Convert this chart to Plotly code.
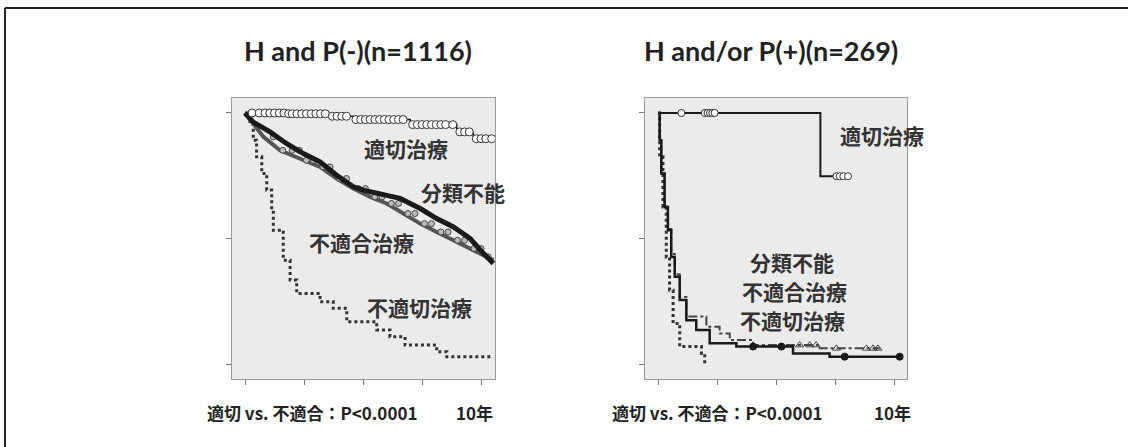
import numpy as np
import plotly.graph_objects as go

W, H = 1128, 447

# ---------------- data ----------------
# Left panel: H and P(-) (n=1116)
L_tekisetsu_t = [0, 1.77, 3.6, 4.6, 7.0, 8.97, 9.67, 10.52]
L_tekisetsu_s = [1.0, 0.997, 0.987, 0.974, 0.954, 0.925, 0.898, 0.898]
L_tekisetsu_cens = [0.3, 0.6, 0.85, 1.05, 1.25, 1.45, 1.65, 1.85, 2.0, 2.2, 2.4, 2.6, 2.8,
                    3.0, 3.2, 3.4, 3.7, 3.9, 4.1, 4.3, 4.7, 4.9, 5.1, 5.3, 5.5, 5.7, 5.9,
                    6.1, 6.3, 6.5, 6.7, 7.1, 7.3, 7.5, 7.7, 7.9, 8.1, 8.3, 8.5, 8.8,
                    9.1, 9.3, 9.5, 9.8, 10.0, 10.2, 10.45]

L_bunrui_t = [0, 0.35, 1.06, 1.77, 2.47, 3.18, 3.88, 4.59, 5.01, 5.72, 6.57, 7.42, 8.12, 8.83, 9.53, 10.10, 10.52]
L_bunrui_s = [1.0, 0.964, 0.925, 0.878, 0.839, 0.806, 0.753, 0.707, 0.694, 0.680, 0.661, 0.621, 0.581, 0.548, 0.502, 0.443, 0.403]

L_futekigo_t = [0, 0.78, 1.48, 2.47, 3.18, 3.88, 4.59, 5.30, 6.0, 6.71, 7.42, 8.12, 8.83, 9.53, 10.24, 10.52]
L_futekigo_s = [1.0, 0.905, 0.852, 0.812, 0.786, 0.740, 0.700, 0.667, 0.641, 0.601, 0.561, 0.528, 0.495, 0.462, 0.429, 0.416]
L_futekigo_cens = [1.2, 1.6, 2.0, 2.3, 2.6, 2.9, 3.3, 3.6, 4.0, 4.3, 4.8, 5.1, 5.5, 5.8,
                   6.2, 6.5, 6.9, 7.2, 7.6, 7.9, 8.3, 8.6, 9.0, 9.3, 9.7, 10.0, 10.3]

L_futekisetsu_t = [0, 0.21, 0.35, 0.49, 0.71, 0.92, 1.13, 1.20, 1.62, 1.91, 2.19, 3.18, 3.74, 4.31, 5.58, 6.14, 6.78, 8.12, 8.55, 10.52]
L_futekisetsu_s = [1.0, 0.958, 0.892, 0.826, 0.760, 0.694, 0.614, 0.535, 0.416, 0.337, 0.284, 0.251, 0.225, 0.172, 0.139, 0.112, 0.079, 0.053, 0.033, 0.033]

# Right panel: H and/or P(+) (n=269)
R_tekisetsu_t = [0, 6.88, 8.05]
R_tekisetsu_s = [1.0, 0.749, 0.749]
R_tekisetsu_cens = [0.99, 1.98, 2.1, 2.2, 2.3, 2.4, 7.56, 7.7, 7.85, 8.05]

R_bunrui_t = [0, 0.07, 0.14, 0.28, 0.42, 0.56, 0.71, 0.92, 1.20, 1.62, 2.19, 3.32, 5.72, 7.27, 10.24]
R_bunrui_s = [1.0, 0.892, 0.760, 0.627, 0.535, 0.429, 0.350, 0.258, 0.178, 0.139, 0.086, 0.073, 0.046, 0.033, 0.033]
R_bunrui_cens = [4.03, 5.23, 7.91, 10.24]

R_futekigo_t = [0, 0.07, 0.14, 0.28, 0.42, 0.56, 0.71, 0.92, 1.20, 2.05, 2.61, 3.04, 4.03, 6.85, 9.39]
R_futekigo_s = [1.0, 0.892, 0.760, 0.627, 0.540, 0.440, 0.360, 0.270, 0.192, 0.152, 0.125, 0.099, 0.079, 0.066, 0.066]
R_futekigo_cens = [6.0, 6.43, 6.7, 7.56, 8.83, 9.11, 9.32]

R_futekisetsu_t = [0, 0.07, 0.21, 0.35, 0.49, 0.64, 0.92, 1.84, 1.98]
R_futekisetsu_s = [1.0, 0.826, 0.627, 0.429, 0.297, 0.165, 0.073, 0.046, 0.007]

titles = ["H and P(-)(n=1116)", "H and/or P(+)(n=269)"]
footer = "適切 vs. 不適合：P<0.0001"
year_label = "10年"
x_ticks = [0, 2.5, 5, 7.5, 10]
y_ticks = [0, 0.5, 1.0]

# ---------------- helpers ----------------
def step_at(t, times, surv):
    idx = np.searchsorted(np.asarray(times), np.asarray(t), side="right") - 1
    return np.asarray(surv)[np.clip(idx, 0, len(surv) - 1)]

def px(x):
    return x / W

def py(y):
    return 1 - y / H

fig = go.Figure()

INK = "#1a1a1a"

def add_curve(t, s, xa, ya, color, width, dash="solid", shape="hv"):
    fig.add_trace(go.Scatter(x=t, y=s, mode="lines", xaxis=xa, yaxis=ya,
                             line=dict(color=color, width=width, dash=dash, shape=shape),
                             showlegend=False, hoverinfo="skip"))

def add_cens(ct, t, s, xa, ya, symbol, color, size, fill="white", lw=1):
    fig.add_trace(go.Scatter(x=ct, y=step_at(ct, t, s), mode="markers", xaxis=xa, yaxis=ya,
                             marker=dict(symbol=symbol, size=size, color=fill,
                                         line=dict(color=color, width=lw)),
                             showlegend=False, hoverinfo="skip"))

# Left panel
add_curve(L_futekisetsu_t, L_futekisetsu_s, "x", "y", "#333333", 3, "dot")
add_curve(L_futekigo_t, L_futekigo_s, "x", "y", "#555555", 4, "solid", "linear")
add_cens(L_futekigo_cens, L_futekigo_t, L_futekigo_s, "x", "y", "circle", "#444444", 6, "#bbbbbb", 1)
add_curve(L_bunrui_t, L_bunrui_s, "x", "y", INK, 5, "solid", "linear")
add_curve(L_tekisetsu_t, L_tekisetsu_s, "x", "y", INK, 1.5)
add_cens(L_tekisetsu_cens, L_tekisetsu_t, L_tekisetsu_s, "x", "y", "circle", "#333333", 8, "white", 1)

# Right panel
add_curve(R_futekisetsu_t, R_futekisetsu_s, "x2", "y2", "#333333", 3, "dot")
add_curve(R_futekigo_t, R_futekigo_s, "x2", "y2", "#444444", 2, "dashdot")
add_cens(R_futekigo_cens, R_futekigo_t, R_futekigo_s, "x2", "y2", "triangle-up-open", "#444444", 7, "#444444", 1)
add_curve(R_bunrui_t, R_bunrui_s, "x2", "y2", INK, 2.5)
add_cens(R_bunrui_cens, R_bunrui_t, R_bunrui_s, "x2", "y2", "circle", INK, 7, INK, 1)
add_curve(R_tekisetsu_t, R_tekisetsu_s, "x2", "y2", INK, 2)
add_cens(R_tekisetsu_cens, R_tekisetsu_t, R_tekisetsu_s, "x2", "y2", "circle", "#333333", 7, "white", 1)

axis_common = dict(showgrid=False, zeroline=False, showline=True, mirror=True,
                   linecolor="#9a9a9a", linewidth=1, ticks="outside", ticklen=5,
                   tickcolor="#777777", showticklabels=False)
xr = [-0.551, 10.59]
yr = [-0.0556, 1.0595]
yd = [py(379), py(98)]

fig.update_layout(
    width=W, height=H, autosize=False,
    margin=dict(l=0, r=0, t=0, b=0),
    paper_bgcolor="white", plot_bgcolor="#ebebeb",
    xaxis=dict(domain=[px(232), px(495)], range=xr, tickvals=x_ticks, anchor="y", **axis_common),
    yaxis=dict(domain=yd, range=yr, tickvals=y_ticks, anchor="x", **axis_common),
    xaxis2=dict(domain=[px(645), px(907)], range=[-0.551, 10.55], tickvals=x_ticks, anchor="y2", **axis_common),
    yaxis2=dict(domain=yd, range=yr, tickvals=y_ticks, anchor="x2", **axis_common),
)

TITLE_FONT = dict(family="Lato, 'Open Sans', sans-serif", size=27, color="#222222")
JP_FONT = dict(family="'Noto Sans CJK JP', sans-serif", size=21, color="#333333")
FOOT_FONT = dict(family="'Noto Sans CJK JP', sans-serif", size=17, color="#222222")

ann = []
ann.append(dict(x=px(358), y=py(50), text="<b>%s</b>" % titles[0], font=TITLE_FONT))
ann.append(dict(x=px(771), y=py(50), text="<b>%s</b>" % titles[1], font=TITLE_FONT))

labels = [
    ("適切治療", 406, 148),
    ("分類不能", 463, 192),
    ("不適合治療", 361, 242),
    ("不適切治療", 419, 307),
    ("適切治療", 882, 135),
    ("分類不能", 792, 262),
    ("不適合治療", 794, 291),
    ("不適切治療", 792, 320),
]
for txt, x, y in labels:
    ann.append(dict(x=px(x), y=py(y), text="<b>%s</b>" % txt, font=JP_FONT))

ann.append(dict(x=px(312), y=py(412), text="<b>%s</b>" % footer, font=FOOT_FONT))
ann.append(dict(x=px(474), y=py(412), text="<b>%s</b>" % year_label, font=FOOT_FONT))
ann.append(dict(x=px(717), y=py(412), text="<b>%s</b>" % footer, font=FOOT_FONT))
ann.append(dict(x=px(892), y=py(412), text="<b>%s</b>" % year_label, font=FOOT_FONT))

for a in ann:
    a.update(xref="paper", yref="paper", showarrow=False, xanchor="center", yanchor="middle")
fig.update_layout(annotations=ann)

# outer frame: top and left edges only
fig.add_shape(type="line", xref="paper", yref="paper", x0=px(5), x1=1, y0=py(8), y1=py(8),
              line=dict(color="#222222", width=2))
fig.add_shape(type="line", xref="paper", yref="paper", x0=px(5), x1=px(5), y0=py(8), y1=0,
              line=dict(color="#222222", width=2))

fig.write_html("out.html", config={"displayModeBar": False},
               post_script="document.body.style.margin='0px';document.body.style.overflow='hidden';")
